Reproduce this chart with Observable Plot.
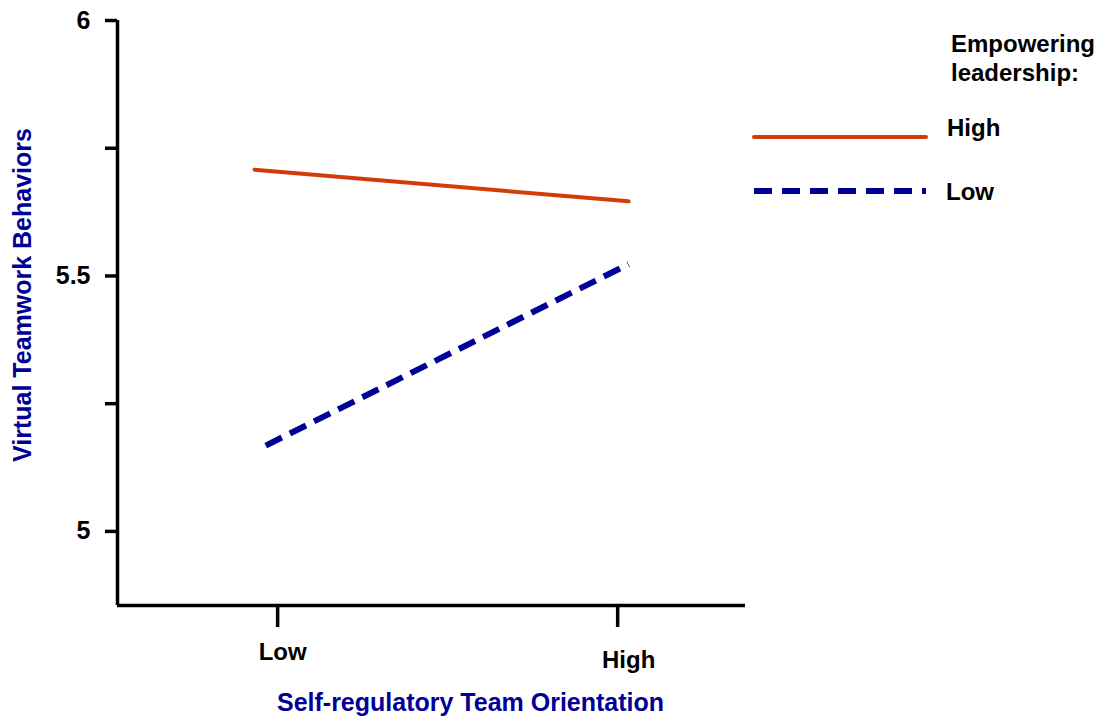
<!DOCTYPE html>
<html>
<head>
<meta charset="utf-8">
<script src="https://cdn.jsdelivr.net/npm/d3@7"></script>
<script src="https://cdn.jsdelivr.net/npm/@observablehq/plot@0.6"></script>
<style>
  html, body { margin: 0; padding: 0; background: #fff; }
  #wrap { position: relative; width: 1104px; height: 719px; font-family: "Liberation Sans", Arial, Helvetica, sans-serif; }
  #legend { position: absolute; left: 0; top: 0; width: 1104px; height: 719px; pointer-events: none; }
</style>
</head>
<body>
<div id="wrap"></div>
<script>
// ---- data ----
const xCategories = ["Low", "High"];          // Self-regulatory Team Orientation
const xCategoryPos = [0, 1];
const seriesNames = ["High", "Low"];          // Empowering leadership
const highX = [-0.068, 1.032];
const highY = [5.708, 5.646];
const lowX = [-0.035, 1.032];
const lowY = [5.168, 5.523];
const yTicks = [5, 5.25, 5.5, 5.75, 6];
const yTickLabels = {5: "5", 5.5: "5.5", 6: "6"};
const xDomain = [-0.471, 1.376];
const yDomain = [4.855, 6];

const RED = "#d23c0a";
const BLUE = "#000096";
const FONT = "Liberation Sans, Arial, Helvetica, sans-serif";

const highData = highX.map((x, i) => ({x, y: highY[i], series: seriesNames[0]}));
const lowData = lowX.map((x, i) => ({x, y: lowY[i], series: seriesNames[1]}));

const chart = Plot.plot({
  width: 1104,
  height: 719,
  marginLeft: 117,
  marginRight: 359,
  marginTop: 20,
  marginBottom: 114,
  style: {fontFamily: FONT, background: "#fff", overflow: "visible"},
  x: {type: "linear", domain: xDomain, axis: null},
  y: {type: "linear", domain: yDomain, axis: null},
  marks: [
    // axis lines
    Plot.ruleX([xDomain[0]], {x: d => d, y1: () => yDomain[0], y2: () => yDomain[1], stroke: "black", strokeWidth: 3.5}),
    Plot.ruleY([yDomain[0]], {y: d => d, x1: () => xDomain[0], x2: () => xDomain[1], stroke: "black", strokeWidth: 3.5}),
    // y axis ticks & labels
    Plot.axisY({
      ticks: yTicks, tickSize: 12, tickPadding: 15,
      tickFormat: d => yTickLabels[d] ?? "",
      fontSize: 25, fontWeight: "bold", fill: "black", stroke: "black", strokeWidth: 3.5,
      label: null
    }),
    // x axis ticks (labels drawn separately, staggered)
    Plot.axisX({
      ticks: xCategoryPos, tickSize: 22, tickFormat: () => "",
      stroke: "black", strokeWidth: 3.5, label: null
    }),
    Plot.text([xCategories[0]], {x: () => xCategoryPos[0], frameAnchor: "bottom", lineAnchor: "middle", dy: 47, dx: 5, fontSize: 24, fontWeight: "bold", fill: "black"}),
    Plot.text([xCategories[1]], {x: () => xCategoryPos[1], frameAnchor: "bottom", lineAnchor: "middle", dy: 55, dx: 11, fontSize: 24, fontWeight: "bold", fill: "black"}),
    // axis titles
    Plot.text(["Self-regulatory Team Orientation"], {frameAnchor: "bottom", lineAnchor: "middle", dy: 97, dx: 39, fontSize: 25, fontWeight: "bold", fill: BLUE}),
    Plot.text(["Virtual Teamwork Behaviors"], {frameAnchor: "left", textAnchor: "middle", lineAnchor: "middle", rotate: -90, dx: -95, dy: -18, fontSize: 25, fontWeight: "bold", fill: BLUE}),
    // data lines
    Plot.line(highData, {x: "x", y: "y", stroke: RED, strokeWidth: 4, strokeLinecap: "round"}),
    Plot.line(lowData, {x: "x", y: "y", stroke: BLUE, strokeWidth: 6, strokeDasharray: "18,9", strokeLinecap: "butt"})
  ]
});
document.getElementById("wrap").appendChild(chart);

// legend (outside the plot frame, upper right)
const ns = "http://www.w3.org/2000/svg";
const leg = document.createElementNS(ns, "svg");
leg.setAttribute("id", "legend");
leg.setAttribute("width", 1104);
leg.setAttribute("height", 719);
const legendTitle = ["Empowering", "leadership:"];
const legendItems = [
  {name: seriesNames[0], color: RED, width: 4, dash: null, y: 137, ty: 128, tx: 947},
  {name: seriesNames[1], color: BLUE, width: 6, dash: "18,10", y: 191, ty: 192, tx: 946}
];
legendTitle.forEach((t, i) => {
  const el = document.createElementNS(ns, "text");
  el.setAttribute("x", 951);
  el.setAttribute("y", 44 + i * 29);
  el.setAttribute("dy", "0.35em");
  el.setAttribute("font-family", FONT);
  el.setAttribute("font-size", 24);
  el.setAttribute("font-weight", "bold");
  el.textContent = t;
  leg.appendChild(el);
});
legendItems.forEach(it => {
  const ln = document.createElementNS(ns, "line");
  ln.setAttribute("x1", 754); ln.setAttribute("x2", 926);
  ln.setAttribute("y1", it.y); ln.setAttribute("y2", it.y);
  ln.setAttribute("stroke", it.color);
  ln.setAttribute("stroke-width", it.width);
  if (it.dash) ln.setAttribute("stroke-dasharray", it.dash);
  else ln.setAttribute("stroke-linecap", "round");
  leg.appendChild(ln);
  const tx = document.createElementNS(ns, "text");
  tx.setAttribute("x", it.tx);
  tx.setAttribute("y", it.ty);
  tx.setAttribute("dy", "0.35em");
  tx.setAttribute("font-family", FONT);
  tx.setAttribute("font-size", 24);
  tx.setAttribute("font-weight", "bold");
  tx.textContent = it.name;
  leg.appendChild(tx);
});
document.getElementById("wrap").appendChild(leg);
</script>
</body>
</html>
